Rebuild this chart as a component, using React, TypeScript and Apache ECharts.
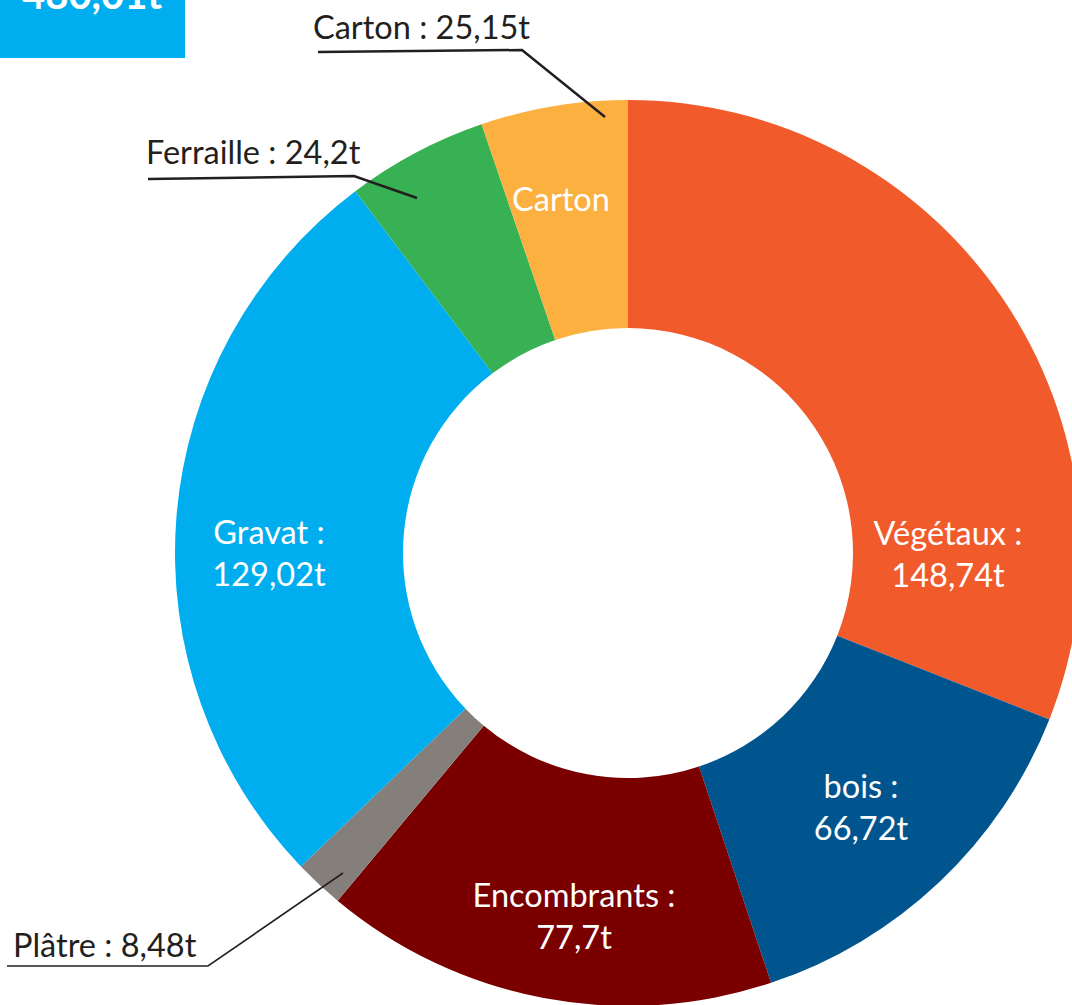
import React, { useEffect, useRef } from "react";
import * as echarts from "echarts";

// ---- Data ----
const categories = ["Végétaux", "bois", "Encombrants", "Plâtre", "Gravat", "Ferraille", "Carton"];
const tonnes = [148.74, 66.72, 77.7, 8.48, 129.02, 24.2, 25.15];
const sliceColors = ["#F15A2B", "#00558F", "#7A0000", "#857F7B", "#00AEEF", "#37B153", "#FBB040"];
const insideLabelled = ["Végétaux", "bois", "Encombrants", "Gravat", "Carton"];
const insideNameOnly = ["Carton"];
const outsideLabelled = ["Carton", "Ferraille", "Plâtre"];

// ---- Layout / style ----
const W = 1072;
const H = 1005;
const CENTER: [number, number] = [628, 553];
const R_IN = 225;
const R_OUT = 453;
const FONT = "Lato, 'Open Sans', sans-serif";
const FS = 32.5;
const DARK = "#231F20";

const insidePos: Record<string, [number, number]> = {
  "Végétaux": [948, 553],
  bois: [861, 806],
  Encombrants: [574, 915],
  Gravat: [269, 552],
  Carton: [561, 198],
};

const outsideLayout: Record<string, { x: number; y: number; line: number[][]; w: number }> = {
  Carton: { x: 313, y: 26, line: [[605, 117], [522, 50], [318, 52]], w: 2.5 },
  Ferraille: { x: 146, y: 151, line: [[417, 198], [354, 176], [148, 179]], w: 2.5 },
  "Plâtre": { x: 13, y: 944, line: [[343, 873], [208, 966], [7, 966]], w: 1.6 },
};

const fmt = (v: number) => String(v).replace(".", ",");

export default function App() {
  const ref = useRef<HTMLDivElement>(null);

  useEffect(() => {
    if (!ref.current) return;
    const chart = echarts.init(ref.current, undefined, { renderer: "svg" });
    const total = tonnes.reduce((a, b) => a + b, 0);

    const mainData = categories.map((name, i) => ({
      name,
      value: tonnes[i],
      itemStyle: { color: sliceColors[i] },
      label: { show: insideLabelled.includes(name) },
    }));

    const overlayData = categories.map((name, i) => ({
      name,
      value: tonnes[i],
      itemStyle: { color: "rgba(0,0,0,0)" },
      label: { show: outsideLabelled.includes(name) },
      labelLine: {
        show: outsideLabelled.includes(name),
        lineStyle: { width: outsideLayout[name] ? outsideLayout[name].w : 2 },
      },
    }));

    chart.setOption({
      animation: false,
      backgroundColor: "#ffffff",
      graphic: [
        {
          type: "rect",
          left: 0,
          top: 0,
          shape: { x: 0, y: 0, width: 185, height: 58 },
          style: { fill: "#00AEEF" },
          z: 10,
        },
        {
          type: "text",
          x: 22,
          y: -6,
          z: 11,
          style: {
            text: total.toFixed(2).replace(".", ",") + "t",
            fill: "#ffffff",
            font: `bold 40px ${FONT}`,
            align: "left",
            verticalAlign: "middle",
          },
        },
      ],
      series: [
        {
          type: "pie",
          z: 2,
          center: CENTER,
          radius: [R_IN, R_OUT],
          startAngle: 90,
          clockwise: true,
          avoidLabelOverlap: false,
          silent: true,
          itemStyle: { borderWidth: 0 },
          label: {
            position: "inside",
            color: "#ffffff",
            fontFamily: FONT,
            fontSize: FS,
            lineHeight: 42,
            align: "center",
            formatter: (p: any) =>
              insideNameOnly.includes(p.name) ? p.name : `${p.name} :\n${fmt(p.value)}t`,
          },
          labelLine: { show: false },
          labelLayout: (p: any) => {
            const name = categories[p.dataIndex];
            const pos = insidePos[name];
            if (!pos) return {};
            return { x: pos[0], y: pos[1], align: "center", verticalAlign: "middle" };
          },
          data: mainData,
        },
        {
          type: "pie",
          z: 5,
          center: CENTER,
          radius: [R_IN, R_OUT],
          startAngle: 90,
          clockwise: true,
          avoidLabelOverlap: false,
          silent: true,
          itemStyle: { borderWidth: 0 },
          label: {
            position: "outside",
            color: DARK,
            fontFamily: FONT,
            fontSize: FS,
            formatter: (p: any) => `${p.name} : ${fmt(p.value)}t`,
          },
          labelLine: {
            show: true,
            smooth: false,
            lineStyle: { color: DARK, width: 2.5 },
          },
          labelLayout: (p: any) => {
            const name = categories[p.dataIndex];
            const o = outsideLayout[name];
            if (!o) return {};
            return {
              x: o.x,
              y: o.y,
              align: "left",
              verticalAlign: "middle",
              labelLinePoints: o.line,
            };
          },
          data: overlayData,
        },
      ],
    });

    return () => chart.dispose();
  }, []);

  return (
    <div
      ref={ref}
      style={{ position: "absolute", left: 0, top: 0, width: W, height: H, background: "#fff" }}
    />
  );
}
